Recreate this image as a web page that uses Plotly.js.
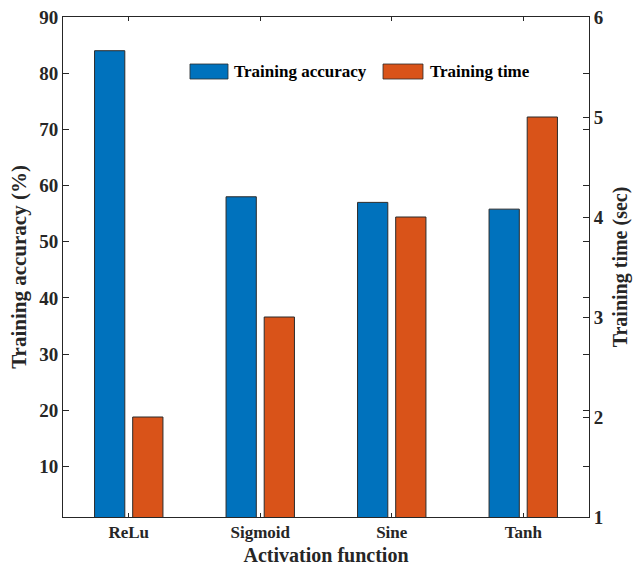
<!DOCTYPE html>
<html>
<head>
<meta charset="utf-8">
<script src="https://cdn.plot.ly/plotly-3.0.1.min.js"></script>
<style>html,body{margin:0;padding:0;background:#fff;}#chart{width:638px;height:566px;}</style>
</head>
<body>
<div id="chart"></div>
<script>
const categories = ["ReLu", "Sigmoid", "Sine", "Tanh"];
const trainingAccuracy = [84, 58, 57, 55.8];
const trainingTime = [2.0, 3.0, 4.0, 5.0];
const accTicks = [10, 20, 30, 40, 50, 60, 70, 80, 90];
const timeTicks = [1, 2, 3, 4, 5, 6];
const seriesNames = ["Training accuracy", "Training time"];
const seriesColors = ["#0072BD", "#D95319"];

const xPos = categories.map((c, i) => i + 1);
const FF = "Liberation Serif, Times New Roman, serif";
const TXT = "#262626";

const traces = [
  {
    type: "bar", name: seriesNames[0], x: xPos, y: trainingAccuracy,
    yaxis: "y", width: 0.23, offset: -0.26,
    marker: {color: seriesColors[0], line: {color: "#2b2b2b", width: 1}}
  },
  {
    type: "bar", name: seriesNames[1], x: xPos, y: trainingTime,
    yaxis: "y2", width: 0.23, offset: 0.03,
    marker: {color: seriesColors[1], line: {color: "#2b2b2b", width: 1}}
  }
];

// manual legend (MATLAB style wide swatches)
const legX = [[0.2414, 0.3137], [0.6084, 0.6844]];
const legTextX = [0.3213, 0.6939];
const shapes = legX.map((p, i) => ({
  type: "rect", xref: "paper", yref: "paper", x0: p[0], x1: p[1], y0: 0.876, y1: 0.906,
  fillcolor: seriesColors[i], line: {color: "#2b2b2b", width: 0.8}
}));
const annotations = seriesNames.map((n, i) => ({
  xref: "paper", yref: "paper", x: legTextX[i], y: 0.891, xanchor: "left", yanchor: "middle",
  text: n, showarrow: false,
  font: {family: FF, size: 17, color: "#000", weight: "bold"}
}));

const layout = {
  width: 638, height: 566,
  margin: {l: 63, r: 49, t: 17, b: 49},
  paper_bgcolor: "#fff", plot_bgcolor: "#fff",
  barmode: "overlay",
  font: {family: FF, color: TXT},
  showlegend: false,
  shapes: shapes,
  annotations: annotations,
  xaxis: {
    range: [0.5, 4.5], tickmode: "array", tickvals: xPos, ticktext: categories,
    showline: true, linecolor: TXT, linewidth: 1, mirror: "ticks",
    ticks: "inside", ticklen: 4, tickcolor: TXT, showgrid: false, zeroline: false,
    tickfont: {family: FF, size: 17, color: TXT, weight: "bold"},
    title: {text: "Activation function", standoff: 6,
      font: {family: FF, size: 20, color: TXT, weight: "bold"}}
  },
  yaxis: {
    range: [1, 90], tickmode: "array", tickvals: accTicks,
    showline: true, linecolor: TXT, linewidth: 1, mirror: "ticks",
    ticks: "inside", ticklen: 6, tickcolor: TXT, showgrid: false, zeroline: false,
    tickfont: {family: FF, size: 19, color: TXT, weight: "bold"},
    title: {text: "Training accuracy (%)", standoff: 6,
      font: {family: FF, size: 21, color: TXT, weight: "bold"}}
  },
  yaxis2: {
    range: [1, 6], tickmode: "array", tickvals: timeTicks, overlaying: "y", side: "right",
    showline: true, linecolor: TXT, linewidth: 1,
    ticks: "inside", ticklen: 6, tickcolor: TXT, showgrid: false, zeroline: false,
    tickfont: {family: FF, size: 19, color: TXT, weight: "bold"},
    title: {text: "Training time (sec)", standoff: 10,
      font: {family: FF, size: 20, color: TXT, weight: "bold"}}
  }
};

Plotly.newPlot("chart", traces, layout, {displayModeBar: false, staticPlot: true});
</script>
</body>
</html>
